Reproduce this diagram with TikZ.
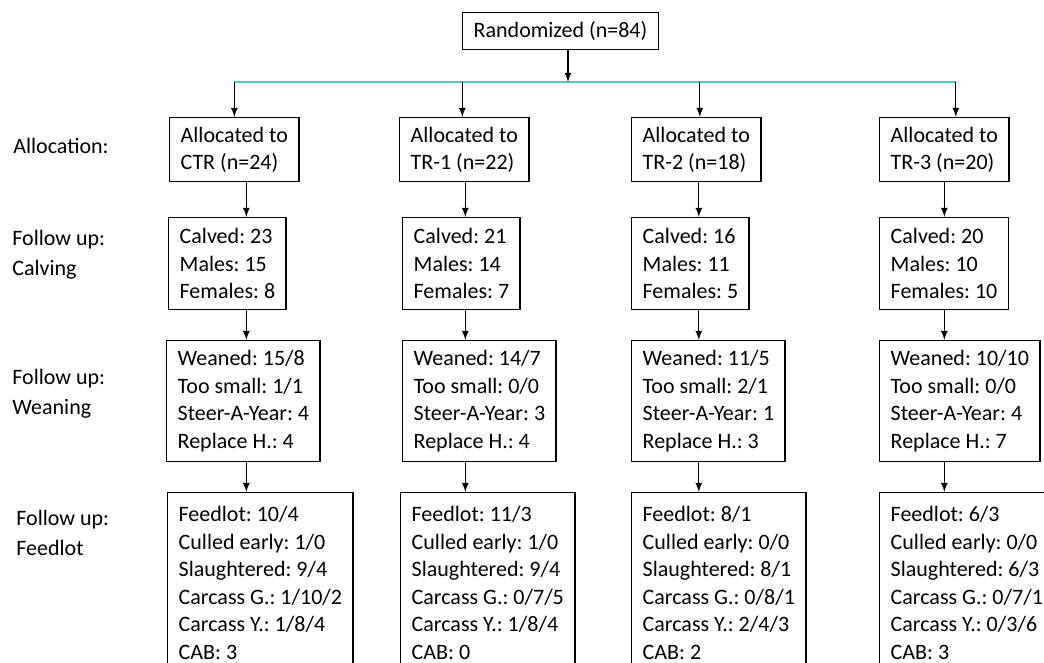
\documentclass[tikz,border=0pt]{standalone}
\usepackage{fontspec}
\setmainfont{Carlito}
\frenchspacing
\definecolor{splitteal}{RGB}{72,204,188}

\begin{document}
\begin{tikzpicture}[x=0.5pt,y=-0.5pt,
    box/.style={draw, line width=0.7pt, anchor=north west, align=left, inner xsep=5.5pt, inner ysep=1pt, font=\fontsize{11}{13.75}\selectfont},
    lbl/.style={anchor=west, align=left, inner sep=0pt, font=\fontsize{11}{15}\selectfont},
    arr/.style={-latex, line width=0.6pt}]
    \useasboundingbox (0,0) rectangle (1044,663);
    \clip (0,0) rectangle (1044,663);

    \node[box, minimum height=18.5pt] (rand) at (462,12) {Randomized (n=84)};
    \coordinate (split) at (568,82);

    % stage labels
    \node[lbl] (lalloc) at (13,146) {Allocation:};
    \node[lbl] (lcalv) at (12,255) {Follow up:\\Calving};
    \node[lbl] (lwean) at (12,394) {Follow up:\\Weaning};
    \node[lbl] (lfeed) at (16,533) {Follow up:\\Feedlot};

    \node[box, minimum height=32pt] (allocctr) at (169,117) {Allocated to\\CTR (n=24)};
    \node[box, minimum height=32pt] (alloctr1) at (399,117) {Allocated to\\TR-1 (n=22)};
    \node[box, minimum height=32pt] (alloctr2) at (631,117) {Allocated to\\TR-2 (n=18)};
    \node[box, minimum height=32pt] (alloctr3) at (879,117) {Allocated to\\TR-3 (n=20)};

    \node[box, minimum height=46pt] (calvctr) at (168,217) {Calved: 23\\Males: 15\\Females: 8};
    \node[box, minimum height=46pt] (calvtr1) at (402,217) {Calved: 21\\Males: 14\\Females: 7};
    \node[box, minimum height=46pt] (calvtr2) at (631,217) {Calved: 16\\Males: 11\\Females: 5};
    \node[box, minimum height=46pt] (calvtr3) at (879,217) {Calved: 20\\Males: 10\\Females: 10};

    \node[box, minimum height=60.5pt] (weanctr) at (166,340) {Weaned: 15/8\\Too small: 1/1\\Steer-A-Year: 4\\Replace H.: 4};
    \node[box, minimum height=60.5pt] (weantr1) at (402,340) {Weaned: 14/7\\Too small: 0/0\\Steer-A-Year: 3\\Replace H.: 4};
    \node[box, minimum height=60.5pt] (weantr2) at (631,340) {Weaned: 11/5\\Too small: 2/1\\Steer-A-Year: 1\\Replace H.: 3};
    \node[box, minimum height=60.5pt] (weantr3) at (879,340) {Weaned: 10/10\\Too small: 0/0\\Steer-A-Year: 4\\Replace H.: 7};

    \node[box, minimum height=90pt] (feedctr) at (167,492) {Feedlot: 10/4\\Culled early: 1/0\\Slaughtered: 9/4\\Carcass G.: 1/10/2\\Carcass Y.: 1/8/4\\CAB: 3};
    \node[box, minimum height=90pt] (feedtr1) at (400,492) {Feedlot: 11/3\\Culled early: 1/0\\Slaughtered: 9/4\\Carcass G.: 0/7/5\\Carcass Y.: 1/8/4\\CAB: 0};
    \node[box, minimum height=90pt] (feedtr2) at (631,492) {Feedlot: 8/1\\Culled early: 0/0\\Slaughtered: 8/1\\Carcass G.: 0/8/1\\Carcass Y.: 2/4/3\\CAB: 2};
    \node[box, minimum height=90pt] (feedtr3) at (879,492) {Feedlot: 6/3\\Culled early: 0/0\\Slaughtered: 6/3\\Carcass G.: 0/7/1\\Carcass Y.: 0/3/6\\CAB: 3};

    % split to the four arms
    \draw[splitteal, line width=0.8pt] (allocctr.north |- split) -- ([xshift=5.75pt]alloctr3.north |- split);
    \draw[arr] (rand.south -| split) -- (split);
    \foreach \c/\s in {ctr/0,tr1/-1,tr2/1.75,tr3/5.75} {\draw[arr] ([xshift=\s pt]alloc\c.north |- split) -- ([xshift=\s pt]alloc\c.north);}

    \foreach \c/\s in {ctr/6,tr1/0.5,tr2/1.25,tr3/0} {
        \draw[arr] ([xshift=\s pt]alloc\c.south) -- ([xshift=\s pt]alloc\c.south |- calv\c.north);
        \draw[arr] ([xshift=\s pt]alloc\c.south |- calv\c.south) -- ([xshift=\s pt]alloc\c.south |- wean\c.north);
        \draw[arr] ([xshift=\s pt]alloc\c.south |- wean\c.south) -- ([xshift=\s pt]alloc\c.south |- feed\c.north);
    }
\end{tikzpicture}
\end{document}
